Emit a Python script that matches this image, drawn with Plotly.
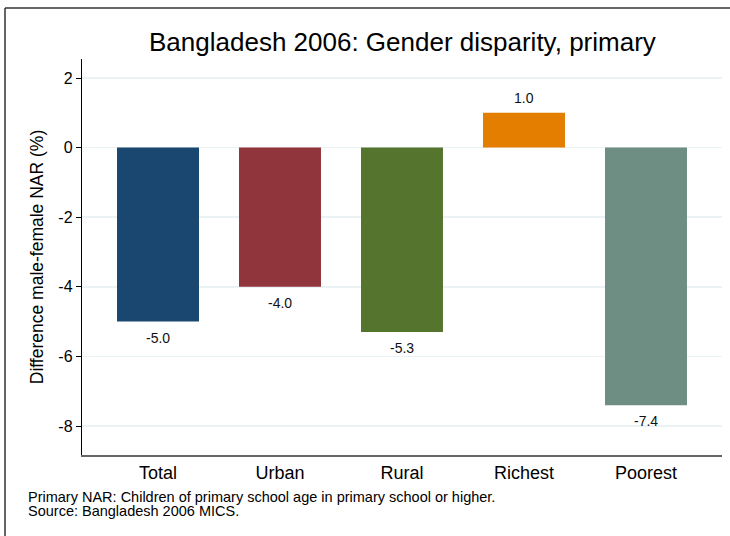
import plotly.graph_objects as go

categories = ["Total", "Urban", "Rural", "Richest", "Poorest"]
values = [-5.0, -4.0, -5.3, 1.0, -7.4]
colors = ["#1a476f", "#90353b", "#55752f", "#e37e00", "#6e8e84"]
y_ticks = [2, 0, -2, -4, -6, -8]

title_text = "Bangladesh 2006: Gender disparity, primary"
y_title = "Difference male-female NAR (%)"
note_lines = ["Primary NAR: Children of primary school age in primary school or higher.",
              "Source: Bangladesh 2006 MICS."]

FONT = "Liberation Sans, Arial, Helvetica, sans-serif"
xpos = list(range(len(categories)))

fig = go.Figure()
fig.add_trace(go.Bar(
    x=xpos, y=values, width=0.672,
    marker=dict(color=colors, line=dict(width=0)),
    hoverinfo="skip", showlegend=False,
))

annotations = []
for x, v in zip(xpos, values):
    annotations.append(dict(
        x=x, y=v, xref="x", yref="y",
        text=f"{v:.1f}", showarrow=False,
        yanchor="top" if v < 0 else "bottom",
        yshift=-6 if v < 0 else 5,
        font=dict(family=FONT, size=14, color="#111111"),
    ))

annotations.append(dict(
    x=0.5, y=1, xref="paper", yref="paper",
    yshift=59 - 42, yanchor="middle",
    text=title_text, showarrow=False,
    font=dict(family=FONT, size=26, color="#000000"),
))

for i, line in enumerate(note_lines):
    annotations.append(dict(
        x=(27 - 82) / 640, y=0, xref="paper", yref="paper",
        xanchor="left", yanchor="middle",
        yshift=-(497 + 14 * i - 455),
        text=line, showarrow=False, borderpad=0,
        font=dict(family=FONT, size=14.5, color="#000000"),
    ))

fig.update_layout(
    width=730, height=536,
    margin=dict(l=82, r=8, t=59, b=81, pad=0),
    paper_bgcolor="white", plot_bgcolor="white",
    annotations=annotations,
    shapes=[
        dict(type="line", xref="paper", yref="paper",
             x0=(5 - 82) / 640, x1=(731 - 82) / 640,
             y0=(455 - 8) / 396, y1=(455 - 8) / 396,
             line=dict(color="#333333", width=1.5)),
        dict(type="line", xref="paper", yref="paper",
             x0=(5 - 82) / 640, x1=(5 - 82) / 640,
             y0=(455 - 8) / 396, y1=(455 - 540) / 396,
             line=dict(color="#333333", width=1.5)),
    ],
    xaxis=dict(
        range=[-0.623, 4.623], tickmode="array", tickvals=xpos, ticktext=categories,
        showgrid=False, zeroline=False, showline=True, linecolor="#666666", linewidth=2,
        ticks="", tickfont=dict(family=FONT, size=18, color="#000000"),
        fixedrange=True,
    ),
    yaxis=dict(
        range=[-8.833, 2.546], tickmode="array", tickvals=y_ticks,
        ticktext=[str(t) for t in y_ticks],
        showgrid=True, gridcolor="#eaf2f3", gridwidth=1.5,
        zeroline=False, showline=True, linecolor="#000000", linewidth=1.2,
        ticks="outside", ticklen=5, tickcolor="#000000", tickwidth=1,
        tickfont=dict(family=FONT, size=16, color="#000000"),
        title=dict(text=y_title, font=dict(family=FONT, size=17.5, color="#000000"), standoff=10),
        fixedrange=True,
    ),
    font=dict(family=FONT),
)

fig.write_html(
    "out.html",
    config={"displayModeBar": False, "staticPlot": True},
    post_script="document.body.style.margin='0';document.body.style.padding='0';",
)
